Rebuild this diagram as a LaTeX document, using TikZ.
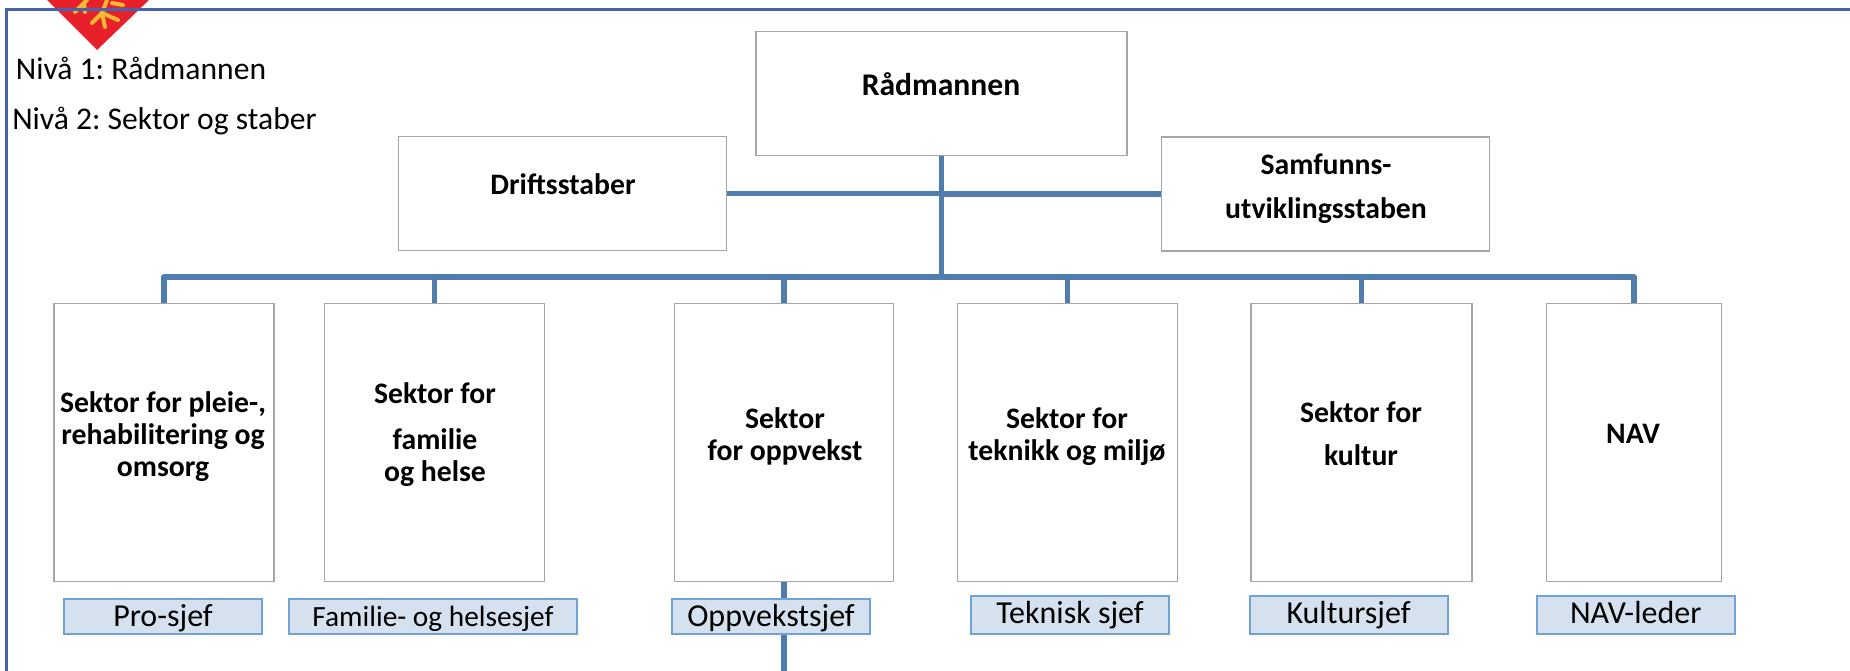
\documentclass[tikz,border=0pt]{standalone}
\usepackage{fontspec}
\setmainfont{Carlito}
\usetikzlibrary{positioning}
\definecolor{ramme}{HTML}{4464AD}
\definecolor{linjeblaa}{HTML}{4F7EAE}
\definecolor{boksgraa}{HTML}{A6A6A6}
\definecolor{sjeffyll}{HTML}{D6E1F0}
\definecolor{sjefkant}{HTML}{6FA3D6}
\definecolor{skjoldrod}{HTML}{E8202A}
\definecolor{skjoldgul}{HTML}{F5B82E}
\tikzset{
  boks/.style={draw=boksgraa,line width=1.2pt,fill=white,inner sep=0pt},
  linje/.style={draw=linjeblaa,line width=4.1pt,line join=round},
  tekst/.style={font=\fontsize{22.3}{24}\selectfont\bfseries,align=center,inner sep=0pt,anchor=base},
  niva/.style={font=\fontsize{23.7}{28}\selectfont,inner sep=0pt,anchor=base west},
  sjef/.style={draw=sjefkant,line width=1.5pt,fill=sjeffyll,inner sep=0pt,
    font=\fontsize{24}{28}\selectfont,minimum width=198*.75pt,text depth=0pt},
  klo/.style={draw=skjoldgul,line width=3pt,line cap=round},
}
\frenchspacing
\begin{document}
\begin{tikzpicture}[x=.75pt,y=-.75pt]
    \useasboundingbox (0,0) rectangle (1850,671);

    \fill[skjoldrod] (47,0)--(97,50)--(149,0)--cycle;
    \draw[klo] (107,0)--(102,13)--(92,23);
    \draw[klo] (102,13)--(105,27);
    \draw[klo] (102,13)--(118,20);
    \draw[klo] (87,0)--(75,12);
    \draw[klo] (84,3)--(85,12);
    \draw[klo] (112,3)--(123,5);
    \draw[ramme,line width=1.9pt] (6.3,671)--(6.3,9.5)--(1850,9.5);

    \node[niva] (niva1) at (15.7,79) {Nivå 1: Rådmannen};
    \node[niva] (niva2) at (12,129) {Nivå 2: Sektor og staber};

    \node[boks,minimum width=371*.75pt,minimum height=124*.75pt] (raad) at (941.3,93.3) {};
    \node[boks,minimum width=328*.75pt,minimum height=114*.75pt] (drift) at (562.5,193.5) {};
    \node[boks,minimum width=328*.75pt,minimum height=114*.75pt] (samf) at (1325.4,194) {};

    \node[boks,minimum width=220*.75pt,minimum height=278*.75pt] (pro) at (163.8,442.5) {};
    \node[boks,minimum width=220*.75pt,minimum height=278*.75pt] (fam) at (434.5,442.5) {};
    \node[boks,minimum width=219*.75pt,minimum height=278*.75pt] (opp) at (784,442.5) {};
    \node[boks,minimum width=220*.75pt,minimum height=278*.75pt] (tek) at (1067.6,442.5) {};
    \node[boks,minimum width=221*.75pt,minimum height=278*.75pt] (kul) at (1361.4,442.5) {};
    \node[boks,minimum width=175*.75pt,minimum height=278*.75pt] (nav) at (1634,442.5) {};

    \coordinate (buss) at (941.3,277);
    \coordinate (ned) at (784,671);

    \draw[linje] (raad.south)--(buss);
    \draw[linje] (drift.east)--(drift.east -| raad.south);
    \draw[linje] (samf.west)--(samf.west -| raad.south);
    \draw[linje] (pro.north) |- (buss) -| (nav.north);
    \draw[linje] (fam.north)--(fam.north |- buss);
    \draw[linje] (opp.north)--(opp.north |- buss);
    \draw[linje] (tek.north)--(tek.north |- buss);
    \draw[linje] (kul.north)--(kul.north |- buss);
    \draw[linje] (opp.south)--(ned);

    \node[tekst,font=\fontsize{23.7}{28}\selectfont\bfseries] (raadtekst) at (941,95) {Rådmannen};
    \node[tekst] (drifttekst) at (563,194) {Driftsstaber};
    \node[tekst] (samftekst) at (1326,218) {Samfunns-\\[9pt]utviklingsstaben};
    \node[tekst] (protekst) at (163,476) {Sektor for pleie-,\\rehabilitering og\\omsorg};
    \node[tekst] (famtekst) at (435,481.7) {Sektor for\\[10.5pt]familie\\og helse};
    \node[tekst] (opptekst) at (785,460) {Sektor\\for oppvekst};
    \node[tekst] (tektekst) at (1067,460) {Sektor for\\teknikk og miljø};
    \node[tekst] (kultekst) at (1361,465) {Sektor for\\[8.25pt]kultur};
    \node[tekst] (navtekst) at (1633,443) {NAV};

    \node[sjef,minimum height=35*.75pt,text height=14.25pt] (prosjef) at (163,616.5) {Pro-sjef};
    \node[sjef,minimum height=35*.75pt,text height=14.25pt,minimum width=288*.75pt,
      font=\fontsize{22}{28}\selectfont] (famsjef) at (433,616.5) {Familie- og helsesjef};
    \node[sjef,minimum height=35*.75pt,text height=14.25pt] (oppsjef) at (771,616.5) {Oppvekstsjef};
    \node[sjef,minimum height=38*.75pt,text height=12.3pt] (teksjef) at (1070,615) {Teknisk sjef};
    \node[sjef,minimum height=38*.75pt,text height=12.3pt] (kulsjef) at (1348.5,615) {Kultursjef};
    \node[sjef,minimum height=38*.75pt,text height=12.3pt] (navsjef) at (1635.7,615) {NAV-leder};
  \end{tikzpicture}
\end{document}
